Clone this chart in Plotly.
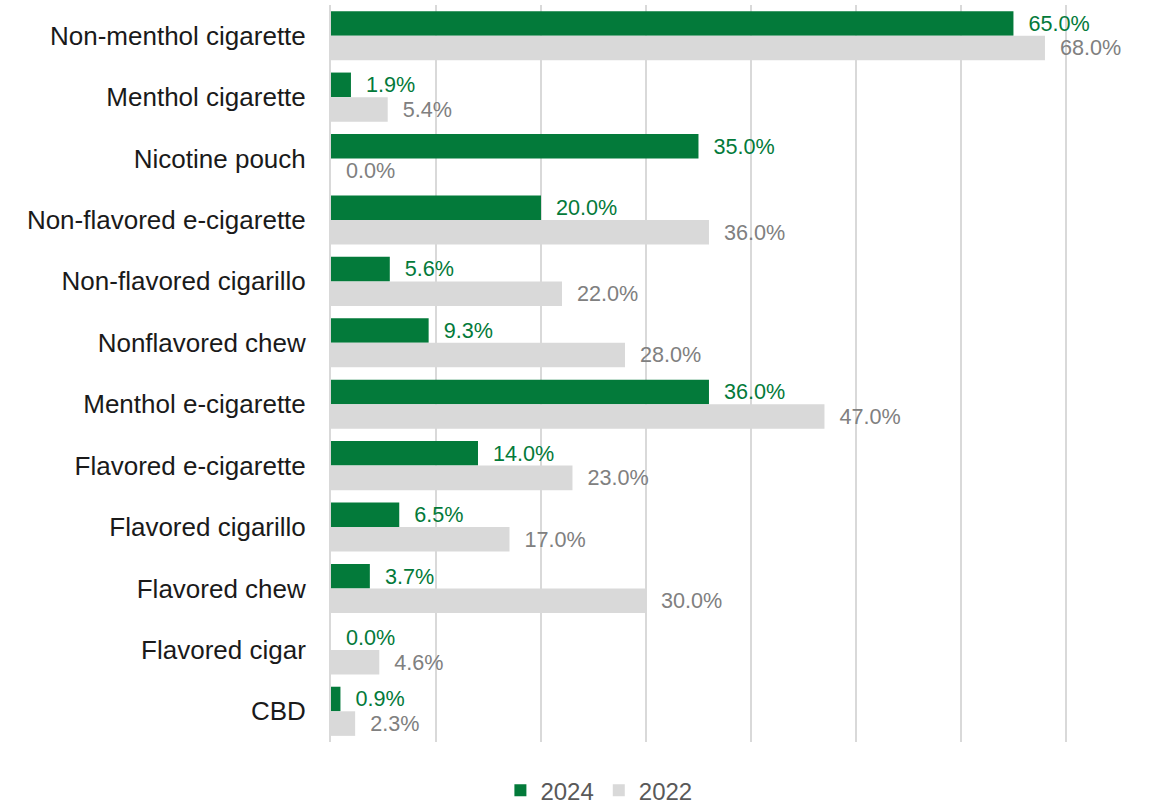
import plotly.graph_objects as go

categories = [
    "Non-menthol cigarette", "Menthol cigarette", "Nicotine pouch",
    "Non-flavored e-cigarette", "Non-flavored cigarillo", "Nonflavored chew",
    "Menthol e-cigarette", "Flavored e-cigarette", "Flavored cigarillo",
    "Flavored chew", "Flavored cigar", "CBD",
]
values_2024 = [65.0, 1.9, 35.0, 20.0, 5.6, 9.3, 36.0, 14.0, 6.5, 3.7, 0.0, 0.9]
values_2022 = [68.0, 5.4, 0.0, 36.0, 22.0, 28.0, 47.0, 23.0, 17.0, 30.0, 4.6, 2.3]

GREEN = "#037A3A"
GRAY = "#D9D9D9"
FONT = "Liberation Sans, Arial, sans-serif"
PAD = "\u00a0\u00a0"

fig = go.Figure()
fig.add_trace(go.Bar(
    name="2024", y=categories, x=values_2024, orientation="h",
    marker=dict(color=GREEN, line=dict(width=0)),
    texttemplate=PAD + "%{x:.1f}%", textposition="outside",
    textfont=dict(color=GREEN, size=22, family=FONT),
    cliponaxis=False,
))
fig.add_trace(go.Bar(
    name="2022", y=categories, x=values_2022, orientation="h",
    marker=dict(color=GRAY, line=dict(width=0)),
    texttemplate=PAD + "%{x:.1f}%", textposition="outside",
    textfont=dict(color="#808080", size=22, family=FONT),
    cliponaxis=False,
))

fig.update_layout(
    width=1160, height=808,
    margin=dict(l=331, r=93, t=5, b=66, autoexpand=False),
    paper_bgcolor="white", plot_bgcolor="white",
    barmode="group", bargap=0.2, bargroupgap=0,
    font=dict(family=FONT, color="#1a1a1a"),
    legend=dict(
        orientation="h", x=0.364, xanchor="center", y=-0.066, yanchor="middle",
        font=dict(size=24, color="#595959", family=FONT),
        itemwidth=30, traceorder="normal",
    ),
    showlegend=True,
)
fig.update_xaxes(
    range=[0, 70.1], dtick=10, showticklabels=False,
    showgrid=True, gridcolor=GRAY, gridwidth=2,
    zeroline=False, showline=False, fixedrange=True,
)
fig.update_yaxes(
    autorange="reversed", showgrid=False, zeroline=False,
    showline=True, linecolor=GRAY, linewidth=2,
    ticks="", ticklabelstandoff=18,
    tickfont=dict(size=26, color="#1a1a1a", family=FONT),
)

fig.write_html("out.html")
